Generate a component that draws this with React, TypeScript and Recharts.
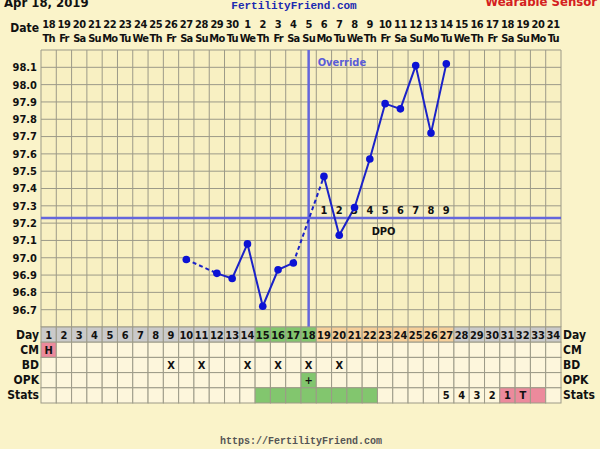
import React from 'react';
import {
  ComposedChart,
  Line,
  XAxis,
  YAxis,
  CartesianGrid,
  ReferenceLine,
  ReferenceDot,
} from 'recharts';

const DAYS = [1, 2, 3, 4, 5, 6, 7, 8, 9, 10, 11, 12, 13, 14, 15, 16, 17, 18, 19, 20, 21, 22, 23, 24, 25, 26, 27, 28, 29, 30, 31, 32, 33, 34];
const DATES = ['18', '19', '20', '21', '22', '23', '24', '25', '26', '27', '28', '29', '30', '1', '2', '3', '4', '5', '6', '7', '8', '9', '10', '11', '12', '13', '14', '15', '16', '17', '18', '19', '20', '21'];
const WEEKDAYS = ['Th', 'Fr', 'Sa', 'Su', 'Mo', 'Tu', 'We', 'Th', 'Fr', 'Sa', 'Su', 'Mo', 'Tu', 'We', 'Th', 'Fr', 'Sa', 'Su', 'Mo', 'Tu', 'We', 'Th', 'Fr', 'Sa', 'Su', 'Mo', 'Tu', 'We', 'Th', 'Fr', 'Sa', 'Su', 'Mo', 'Tu'];
const TEMPS: (number | null)[] = [
  null, null, null, null, null, null, null, null, null, 96.99,
  null, 96.91, 96.88, 97.08, 96.72, 96.93, 96.97, null, 97.47, 97.13,
  97.29, 97.57, 97.89, 97.86, 98.11, 97.72, 98.12, null, null, null,
  null, null, null, null,
];
const TEMP_TICKS = [96.6, 96.7, 96.8, 96.9, 97.0, 97.1, 97.2, 97.3, 97.4, 97.5, 97.6, 97.7, 97.8, 97.9, 98.0, 98.1, 98.2];
const COVERLINE = 97.23;
const OVULATION_DAY = 18;
const DPO_DAYS = [19, 20, 21, 22, 23, 24, 25, 26, 27];
const DPO_LABELS = ['1', '2', '3', '4', '5', '6', '7', '8', '9'];

// Day row colouring: pre = grey, fertile = green, luteal = peach
const DAY_PHASE = [
  'pre', 'pre', 'pre', 'pre', 'pre', 'pre', 'pre', 'pre', 'pre', 'pre', 'pre', 'pre', 'pre', 'pre',
  'fertile', 'fertile', 'fertile', 'fertile',
  'luteal', 'luteal', 'luteal', 'luteal', 'luteal', 'luteal', 'luteal', 'luteal', 'luteal',
  'pre', 'pre', 'pre', 'pre', 'pre', 'pre', 'pre',
];
const CM_DAYS = [1];
const CM_VALUES = ['H'];
const BD_DAYS = [9, 11, 14, 16, 18, 20];
const OPK_DAYS = [18];
const OPK_VALUES = ['+'];
const STATS_GREEN_DAYS = [15, 16, 17, 18, 19, 20, 21, 22];
const STATS_PINK_DAYS = [31, 32, 33];
const STATS_TEXT_DAYS = [27, 28, 29, 30, 31, 32];
const STATS_TEXT = ['5', '4', '3', '2', '1', 'T'];

const W = 600;
const H = 449;
const PLOT_LEFT = 41;
const PLOT_RIGHT = 561;
const CELL_W = (PLOT_RIGHT - PLOT_LEFT) / DAYS.length;
const ROW_H = 15.2;

const PAGE_BG = '#faf3c9';
const PLOT_BG = '#f8f0c2';
const CELL_BG = '#fdf6dc';
const GRID = '#9c9a88';
const BLUE_REF = '#6466dc';
const LINE = '#1b22c8';
const PHASE_FILL: Record<string, string> = { pre: '#cacaca', fertile: '#82c66e', luteal: '#f6cf9a' };
const GREEN = '#82c66e';
const PINK = '#ec8a9c';
const FONT = "'DejaVu Sans Condensed', 'Liberation Sans', sans-serif";
const MONO = "'Liberation Mono', 'DejaVu Sans Mono', monospace";

const chartData = DAYS.map((day, i) => {
  const row: Record<string, number | null> = { day, temp: TEMPS[i] };
  return row;
});

// dashed bridges over missing temperatures
const gaps: { from: number; to: number }[] = [];
let prev = -1;
TEMPS.forEach((t, i) => {
  if (t == null) return;
  if (prev >= 0 && i - prev > 1) gaps.push({ from: prev, to: i });
  prev = i;
});
gaps.forEach((g, k) => {
  chartData[g.from][`gap${k}`] = TEMPS[g.from];
  chartData[g.to][`gap${k}`] = TEMPS[g.to];
});

const boundaries = [DAYS[0] - 0.5, ...DAYS.map(d => d + 0.5)];

const textStyle = { fontFamily: FONT, fontWeight: 'bold' as const, fontSize: 11, fill: '#111' };

const DateTick = ({ x, y, payload }: any) => {
  const i = payload.value - 1;
  return (
    <g>
      <text x={x} y={y - 22} textAnchor="middle" {...textStyle} fontSize={11} letterSpacing={-0.4}>{DATES[i]}</text>
      <text x={x} y={y - 8} textAnchor="middle" {...textStyle} fontSize={11} letterSpacing={-0.8}>{WEEKDAYS[i]}</text>
    </g>
  );
};

const TableTick = ({ x, y, payload }: any) => {
  const day = payload.value;
  const i = day - 1;
  const cm = CM_DAYS.indexOf(day);
  const opk = OPK_DAYS.indexOf(day);
  const st = STATS_TEXT_DAYS.indexOf(day);
  const rows = [
    { fill: PHASE_FILL[DAY_PHASE[i]], text: String(day) },
    { fill: cm >= 0 ? PINK : CELL_BG, text: cm >= 0 ? CM_VALUES[cm] : '' },
    { fill: CELL_BG, text: BD_DAYS.includes(day) ? 'X' : '' },
    { fill: opk >= 0 ? GREEN : CELL_BG, text: opk >= 0 ? OPK_VALUES[opk] : '' },
    {
      fill: STATS_GREEN_DAYS.includes(day) ? GREEN : STATS_PINK_DAYS.includes(day) ? PINK : CELL_BG,
      text: st >= 0 ? STATS_TEXT[st] : '',
    },
  ];
  return (
    <g>
      {rows.map((r, k) => (
        <g key={k}>
          <rect x={x - CELL_W / 2} y={y + k * ROW_H} width={CELL_W} height={ROW_H} fill={r.fill} stroke={GRID} strokeWidth={1} />
          <text x={x} y={y + k * ROW_H + ROW_H / 2 + 4} textAnchor="middle" {...textStyle}>{r.text}</text>
        </g>
      ))}
    </g>
  );
};

const yTickFormat = (v: number) => (v < 96.65 || v > 98.15 ? '' : v.toFixed(1));

const ROW_LABELS = ['Day', 'CM', 'BD', 'OPK', 'Stats'];

export default function App() {
  const tableTop = 327;
  return (
    <div style={{ position: 'absolute', left: 0, top: 0, width: W, height: H, background: PAGE_BG, overflow: 'hidden' }}>
      <ComposedChart width={W} height={H} data={chartData} margin={{ top: 0, right: 0, bottom: 47, left: 0 }}>
        <CartesianGrid xAxisId="bottom" yAxisId="left" vertical={false} stroke={GRID} strokeWidth={1} fill={PLOT_BG} />
        <XAxis
          xAxisId="top"
          orientation="top"
          dataKey="day"
          type="number"
          domain={[0.5, 34.5]}
          ticks={DAYS}
          interval={0}
          height={50}
          axisLine={false}
          tickLine={false}
          tickSize={0}
          tickMargin={0}
          tick={<DateTick />}
        />
        <XAxis
          xAxisId="bottom"
          orientation="bottom"
          dataKey="day"
          type="number"
          domain={[0.5, 34.5]}
          ticks={DAYS}
          interval={0}
          height={75}
          axisLine={false}
          tickLine={false}
          tickSize={0}
          tickMargin={0}
          tick={<TableTick />}
        />
        <YAxis
          yAxisId="left"
          orientation="left"
          width={41}
          domain={[96.6, 98.2]}
          ticks={TEMP_TICKS}
          interval={0}
          axisLine={false}
          tickLine={false}
          tickSize={0}
          tickMargin={4}
          tickFormatter={yTickFormat}
          tick={textStyle}
        />
        <YAxis
          yAxisId="right"
          orientation="right"
          width={39}
          domain={[96.6, 98.2]}
          ticks={TEMP_TICKS}
          interval={0}
          axisLine={false}
          tickLine={false}
          tickSize={0}
          tickMargin={3}
          tickFormatter={yTickFormat}
          tick={textStyle}
        />
        {boundaries.map(b => (
          <ReferenceLine key={b} xAxisId="bottom" yAxisId="left" x={b} stroke={GRID} strokeWidth={1} />
        ))}
        <ReferenceLine xAxisId="bottom" yAxisId="left" y={COVERLINE} stroke={BLUE_REF} strokeWidth={2.5} />
        <ReferenceLine
          xAxisId="bottom"
          yAxisId="left"
          x={OVULATION_DAY}
          stroke={BLUE_REF}
          strokeWidth={2.5}
          label={({ viewBox }: any) => (
            <text x={viewBox.x + 9} y={viewBox.y + 16} {...textStyle} fill="#5a5cd8">Override</text>
          )}
        />
        {DPO_DAYS.map((d, k) => (
          <ReferenceDot
            key={d}
            xAxisId="bottom"
            yAxisId="left"
            x={d}
            y={COVERLINE}
            r={0}
            fill="none"
            stroke="none"
            label={({ viewBox }: any) => (
              <text x={viewBox.x} y={viewBox.y - 4} textAnchor="middle" {...textStyle}>{DPO_LABELS[k]}</text>
            )}
          />
        ))}
        <ReferenceDot
          xAxisId="bottom"
          yAxisId="left"
          x={22.9}
          y={COVERLINE}
          r={0}
          fill="none"
          stroke="none"
          label={({ viewBox }: any) => (
            <text x={viewBox.x} y={viewBox.y + 17} textAnchor="middle" {...textStyle}>DPO</text>
          )}
        />
        {gaps.map((g, k) => (
          <Line
            key={k}
            xAxisId="bottom"
            yAxisId="left"
            dataKey={`gap${k}`}
            stroke={LINE}
            strokeWidth={2}
            strokeDasharray="4 3"
            dot={false}
            connectNulls
            isAnimationActive={false}
          />
        ))}
        <Line
          xAxisId="bottom"
          yAxisId="left"
          dataKey="temp"
          stroke={LINE}
          strokeWidth={2}
          dot={{ r: 3.8, fill: '#0c12d4', stroke: 'none' }}
          connectNulls={false}
          isAnimationActive={false}
        />
      </ComposedChart>
      <svg width={W} height={H} style={{ position: 'absolute', left: 0, top: 0, pointerEvents: 'none' }}>
        <text x={4} y={7} fontFamily={FONT} fontWeight="bold" fontSize={13} fill="#111">Apr 18, 2019</text>
        <text x={294} y={9} textAnchor="middle" fontFamily={MONO} fontWeight="bold" fontSize={11} fill="#1c2ab0">FertilityFriend.com</text>
        <text x={597} y={6} textAnchor="end" fontFamily={FONT} fontWeight="bold" fontSize={13} fill="#d42020">Wearable Sensor</text>
        <text x={39} y={32} textAnchor="end" {...textStyle} fontSize={12}>Date</text>
        {ROW_LABELS.map((l, k) => (
          <g key={l}>
            <text x={39} y={tableTop + k * ROW_H + ROW_H / 2 + 4} textAnchor="end" {...textStyle} fontSize={12}>{l}</text>
            <text x={563} y={tableTop + k * ROW_H + ROW_H / 2 + 4} textAnchor="start" {...textStyle} fontSize={12}>{l}</text>
          </g>
        ))}
        <text x={301} y={444} textAnchor="middle" fontFamily={MONO} fontWeight="bold" fontSize={10} fill="#555">https://FertilityFriend.com</text>
      </svg>
    </div>
  );
}
